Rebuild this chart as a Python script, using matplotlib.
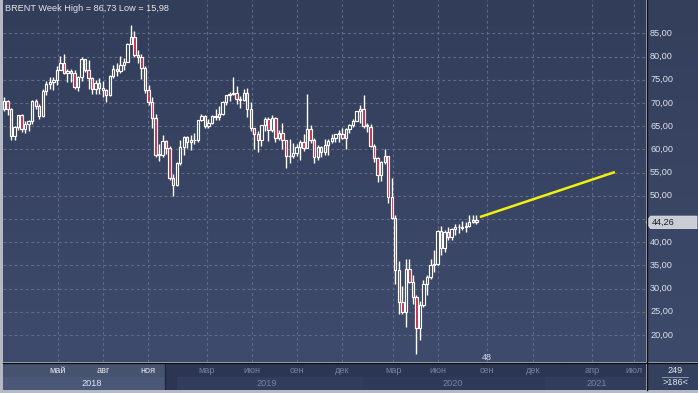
import numpy as np
import matplotlib
matplotlib.use('Agg')
import matplotlib.pyplot as plt
from matplotlib.colors import LinearSegmentedColormap
from matplotlib.patches import Polygon, Rectangle
from matplotlib.lines import Line2D

# ---------------- data (weekly Brent, from 2018-01-22) ----------------
opens = [68.6, 70.5, 68.6, 62.8, 64.8, 67.3, 64.4, 65.5, 66.2, 70.5,
         69.3, 67.1, 72.6, 74.1, 74.6, 74.9, 77.1, 78.5, 76.4, 76.8,
         76.5, 73.4, 75.6, 79.4, 77.1, 75.3, 73.1, 74.3, 73.2, 72.8,
         71.8, 75.8, 77.4, 76.8, 78.1, 78.8, 82.7, 84.2, 80.4, 79.8,
         77.6, 72.8, 70.2, 66.8, 58.8, 58.7, 61.7, 60.3, 53.8, 52.2,
         57.1, 60.5, 62.7, 61.6, 61.9, 62.1, 66.3, 67.1, 65.1, 65.7,
         67.2, 67.0, 67.6, 70.3, 71.6, 72.0, 72.2, 70.9, 70.6, 72.2,
         68.7, 64.5, 63.3, 62.0, 65.2, 66.6, 64.2, 66.7, 62.5, 63.5,
         61.9, 58.5, 58.6, 59.3, 60.4, 61.5, 60.2, 64.3, 61.9, 58.4,
         60.5, 59.4, 61.0, 61.7, 62.5, 63.3, 63.4, 62.4, 64.4, 65.2,
         66.1, 68.2, 68.6, 65.0, 64.9, 60.7, 58.2, 54.5, 57.3, 58.5,
         49.7, 45.3, 33.9, 27.0, 24.9, 34.1, 31.5, 28.1, 21.4, 26.4,
         31.0, 32.5, 35.1, 35.3, 42.3, 38.7, 42.2, 41.0, 42.8, 43.2,
         43.1, 43.3, 43.5, 44.4, 44.8]
highs = [71.3, 70.6, 68.8, 65.0, 67.5, 67.6, 66.0, 66.3, 70.6, 70.8,
         69.7, 73.1, 74.8, 75.5, 75.6, 78.0, 80.2, 80.5, 77.4, 77.3,
         77.0, 75.8, 79.9, 79.4, 79.3, 75.6, 74.9, 75.3, 74.8, 73.0,
         76.0, 78.2, 78.5, 80.1, 79.6, 82.9, 86.73, 85.5, 81.3, 80.6,
         78.0, 73.9, 71.3, 67.6, 61.2, 63.0, 62.0, 60.8, 54.6, 57.3,
         61.9, 62.9, 62.8, 63.0, 63.5, 66.3, 67.7, 67.4, 66.6, 67.4,
         68.7, 69.4, 70.4, 71.6, 72.3, 75.6, 73.6, 71.5, 73.0, 73.2,
         70.2, 64.6, 63.9, 65.3, 67.0, 67.0, 67.5, 67.0, 64.2, 65.7,
         62.1, 62.3, 61.3, 61.1, 62.0, 63.4, 71.95, 65.2, 62.4, 61.0,
         60.7, 62.2, 62.3, 63.3, 63.4, 64.2, 64.6, 64.6, 65.4, 66.6,
         68.2, 69.5, 71.75, 65.6, 65.4, 61.1, 58.3, 57.4, 60.0, 58.5,
         53.9, 45.8, 36.0, 30.5, 36.3, 36.3, 32.9, 28.5, 27.2, 31.9,
         32.9, 36.4, 38.2, 42.6, 43.4, 42.7, 43.3, 43.0, 43.9, 43.8,
         44.6, 44.3, 45.9, 45.9, 45.9]
lows = [68.3, 67.5, 62.0, 61.9, 64.2, 63.7, 63.6, 64.0, 65.5, 68.6,
        66.6, 67.0, 71.8, 72.9, 72.8, 73.8, 77.0, 76.2, 74.5, 74.5,
        72.9, 72.5, 74.7, 76.7, 73.1, 71.9, 72.0, 72.0, 71.3, 70.3,
        71.5, 75.3, 75.9, 76.5, 77.0, 78.8, 82.6, 79.9, 78.5, 75.1,
        72.2, 69.5, 64.6, 58.4, 57.5, 58.4, 59.0, 53.3, 50.0, 52.0,
        56.6, 58.8, 60.2, 59.9, 61.2, 61.6, 66.0, 64.6, 64.5, 65.5,
        66.4, 66.3, 67.5, 69.5, 70.5, 71.8, 69.7, 68.8, 70.4, 67.0,
        63.9, 60.0, 59.5, 60.7, 64.0, 61.7, 63.8, 61.5, 61.9, 60.1,
        55.9, 57.0, 58.2, 58.5, 57.8, 59.6, 60.2, 61.3, 57.1, 57.6,
        58.3, 58.7, 58.8, 61.3, 61.5, 61.6, 62.2, 60.1, 63.5, 64.9,
        66.1, 65.6, 64.6, 63.8, 60.5, 57.2, 53.0, 53.2, 56.9, 48.4,
        45.0, 31.0, 24.5, 24.6, 21.7, 31.1, 26.7, 15.98, 18.9, 26.0,
        28.7, 32.1, 33.6, 35.0, 37.3, 37.9, 40.5, 40.5, 41.5, 42.0,
        42.6, 42.2, 43.3, 44.1, 43.8]
closes = [70.5, 68.6, 62.8, 64.8, 67.3, 64.4, 65.5, 66.2, 70.5, 69.3,
          67.1, 72.6, 74.1, 74.6, 74.9, 77.1, 78.5, 76.4, 76.8, 76.5,
          73.4, 75.6, 79.4, 77.1, 75.3, 73.1, 74.3, 73.2, 72.8, 71.8,
          75.8, 77.4, 76.8, 78.1, 78.8, 82.7, 84.2, 80.4, 79.8, 77.6,
          72.8, 70.2, 66.8, 58.8, 58.7, 61.7, 60.3, 53.8, 52.2, 57.1,
          60.5, 62.7, 61.6, 61.9, 62.1, 66.3, 67.1, 65.1, 65.7, 67.2,
          67.0, 67.6, 70.3, 71.6, 72.0, 72.2, 70.9, 70.6, 72.2, 68.7,
          64.5, 63.3, 62.0, 65.2, 66.6, 64.2, 66.7, 62.5, 63.5, 61.9,
          58.5, 58.6, 59.3, 60.4, 61.5, 60.2, 64.3, 61.9, 58.4, 60.5,
          59.4, 61.0, 61.7, 62.5, 63.3, 63.4, 62.4, 64.4, 65.2, 66.1,
          68.2, 68.6, 65.0, 64.9, 60.7, 58.2, 54.5, 57.3, 58.5, 49.7,
          45.3, 33.9, 27.0, 24.9, 34.1, 31.5, 28.1, 21.4, 26.4, 31.0,
          32.5, 35.1, 35.3, 42.3, 38.7, 42.2, 41.0, 42.8, 43.2, 43.1,
          43.3, 43.5, 44.4, 44.8, 44.26]

price_ticks = [20, 25, 30, 35, 40, 45, 50, 55, 60, 65, 70, 75, 80, 85]
month_labels = ['май', 'авг', 'ноя', 'мар', 'июн', 'сен', 'дек',
                'мар', 'июн', 'сен', 'дек', 'апр', 'июл']
year_labels = ['2018', '2019', '2020', '2021']
trend_weeks = [135.0, 173.3]
trend_values = [45.4, 55.1]
last_price = 44.26
title = 'BRENT Week High = 86,73 Low = 15,98'

# ---------------- layout helpers ----------------
W, H = 698, 393
X0, DX = 4.0, 3.525          # pixel of first candle, pixels per week
Y85, PPU = 33.3, 4.64        # pixel of 85.00, pixels per unit


def px2i(px):
    return (px - X0) / DX


def box(x0, y0, x1, y1):
    return [x0 / W, 1 - y1 / H, (x1 - x0) / W, (y1 - y0) / H]


ymin = 85 - (362 - Y85) / PPU
ymax = 85 + (Y85 - 0) / PPU
xmin, xmax = px2i(3), px2i(646)

fig = plt.figure(figsize=(W / 100, H / 100), dpi=100)
fig.patch.set_facecolor('#b3b9c5')

FONT = ['Liberation Sans', 'DejaVu Sans']
bg_cmap = LinearSegmentedColormap.from_list('bg', ['#323d5a', '#3f4b6c'])
grad = np.linspace(0, 1, 256).reshape(-1, 1)

# ---------------- main chart ----------------
ax = fig.add_axes(box(3, 0, 646, 362))
ax.imshow(grad, cmap=bg_cmap, extent=[0, 1, 0, 1], transform=ax.transAxes,
          aspect='auto', zorder=0)
for s in ax.spines.values():
    s.set_visible(False)
ax.set_xticks([])
ax.set_yticks([])

grid_kw = dict(color='#5f6b89', lw=0.8, ls=(0, (2.5, 2.5)), zorder=1)
for v in price_ticks:
    ax.axhline(v, **grid_kw)
month_px = [58, 103, 148, 206.7, 251.7, 296.7, 341.7, 393.3, 438.3, 486.7, 533, 592, 634]
month_pos = [px2i(p) for p in month_px]
for p in month_pos:
    ax.axvline(p, **grid_kw)

o = np.array(opens)
h = np.array(highs)
l = np.array(lows)
c = np.array(closes)
x = np.arange(len(o))
up = c >= o
face = np.where(up, '#36415f', '#c3283f')
ax.vlines(x, l, h, color='white', lw=1.0, zorder=2)
body = np.where(np.abs(c - o) < 0.15, 0.15, c - o)
ax.bar(x, body, bottom=o, width=0.68, color=face, edgecolor='white',
       linewidth=0.85, zorder=3)

ax.plot(trend_weeks, trend_values, color='#f0f010', lw=1.8, zorder=4,
        solid_capstyle='butt')

ax.set_xlim(xmin, xmax)
ax.set_ylim(ymin, ymax)

ax.text(px2i(487), 85 - (357.5 - Y85) / PPU, '48',
        color='#d4d8e2', fontsize=6.6, family=FONT, ha='center', va='center',
        zorder=5)

fig.text(5 / W, 1 - 8.5 / H, title, color='#e4e7ee', fontsize=6.6,
         family=FONT, ha='left', va='center')

# ---------------- right price panel ----------------
axr = fig.add_axes(box(647, 0, 698, 362))
axr.imshow(grad, cmap=LinearSegmentedColormap.from_list('r', ['#343f5c', '#3e4a6a']),
           extent=[0, 1, 0, 1], transform=axr.transAxes, aspect='auto', zorder=0)
axr.set_xlim(0, 1)
axr.set_ylim(ymin, ymax)
axr.set_xticks([])
axr.set_yticks([])
for s in axr.spines.values():
    s.set_visible(False)
hh = 1.35
for v in price_ticks:
    if abs(v - last_price) < 2 * hh:
        continue  # hidden behind the current-price tag
    axr.text(0.06, v, f'{v:.2f}'.replace('.', ','), color='#dde1ea',
             fontsize=6.6, family=FONT, ha='left', va='center')
tag = Polygon([(-0.02, last_price), (0.07, last_price + hh), (0.98, last_price + hh),
               (0.98, last_price - hh), (0.07, last_price - hh)], closed=True,
              facecolor='#c9cdd6', edgecolor='#e8eaf0', lw=0.5, zorder=3, clip_on=False)
axr.add_patch(tag)
axr.text(0.09, last_price, f'{last_price:.2f}'.replace('.', ','), color='#1a1d26',
         fontsize=6.6, family=FONT, ha='left', va='center', zorder=4)

# ---------------- time axis ----------------
axt = fig.add_axes(box(3, 363, 646, 390))
axt.set_xlim(xmin, xmax)
axt.set_ylim(0, 1)
axt.set_xticks([])
axt.set_yticks([])
for s in axt.spines.values():
    s.set_visible(False)
axt.set_facecolor('#2c3653')
bands = [(3, 165, '#4a5777'), (177, 362, '#323d5b'), (362, 545, '#2f3a58'), (545, 646, '#323d5b')]
for a, b, col in bands:
    axt.add_patch(Rectangle((px2i(a), 0), px2i(b) - px2i(a), 0.5, facecolor=col,
                            edgecolor='none', zorder=1))
axt.add_patch(Rectangle((px2i(3), 0.5), px2i(165) - px2i(3), 0.5, facecolor='#46536f',
                        edgecolor='none', zorder=1))
axt.axvline(px2i(165), color='#1f2740', lw=1, zorder=2)
for i, (p, lab) in enumerate(zip(month_pos, month_labels)):
    col = '#e3e6ee' if i < 3 else '#76839f'
    axt.text(p, 0.72, lab, color=col, fontsize=6.6, family=FONT, ha='center',
             va='center', zorder=3)
year_px = [92, 267, 453, 597]
for i, (p, lab) in enumerate(zip(year_px, year_labels)):
    col = '#e3e6ee' if i == 0 else '#76839f'
    axt.text(px2i(p), 0.25, lab, color=col, fontsize=6.6, family=FONT, ha='center',
             va='center', zorder=3)

# ---------------- bottom-right box ----------------
axb = fig.add_axes(box(647, 363, 698, 390))
axb.set_facecolor('#33405e')
axb.set_xlim(0, 1)
axb.set_ylim(0, 1)
axb.set_xticks([])
axb.set_yticks([])
for s in axb.spines.values():
    s.set_visible(False)
axb.text(0.55, 0.73, '249', color='#e3e6ee', fontsize=6.6, family=FONT,
         ha='center', va='center')
axb.plot([0.3, 0.8], [0.5, 0.5], color='#9aa4b8', lw=0.6)
axb.text(0.55, 0.27, '>186<', color='#e3e6ee', fontsize=6.6, family=FONT,
         ha='center', va='center')

# ---------------- separators ----------------
fig.add_artist(Line2D([646.5 / W, 646.5 / W], [1 - 390 / H, 1], color='#0b0e16', lw=1.0))
fig.add_artist(Line2D([3 / W, 1], [1 - 362.5 / H, 1 - 362.5 / H], color='#0b0e16', lw=1.0))

fig.savefig('out.png', dpi=100, facecolor=fig.get_facecolor())
